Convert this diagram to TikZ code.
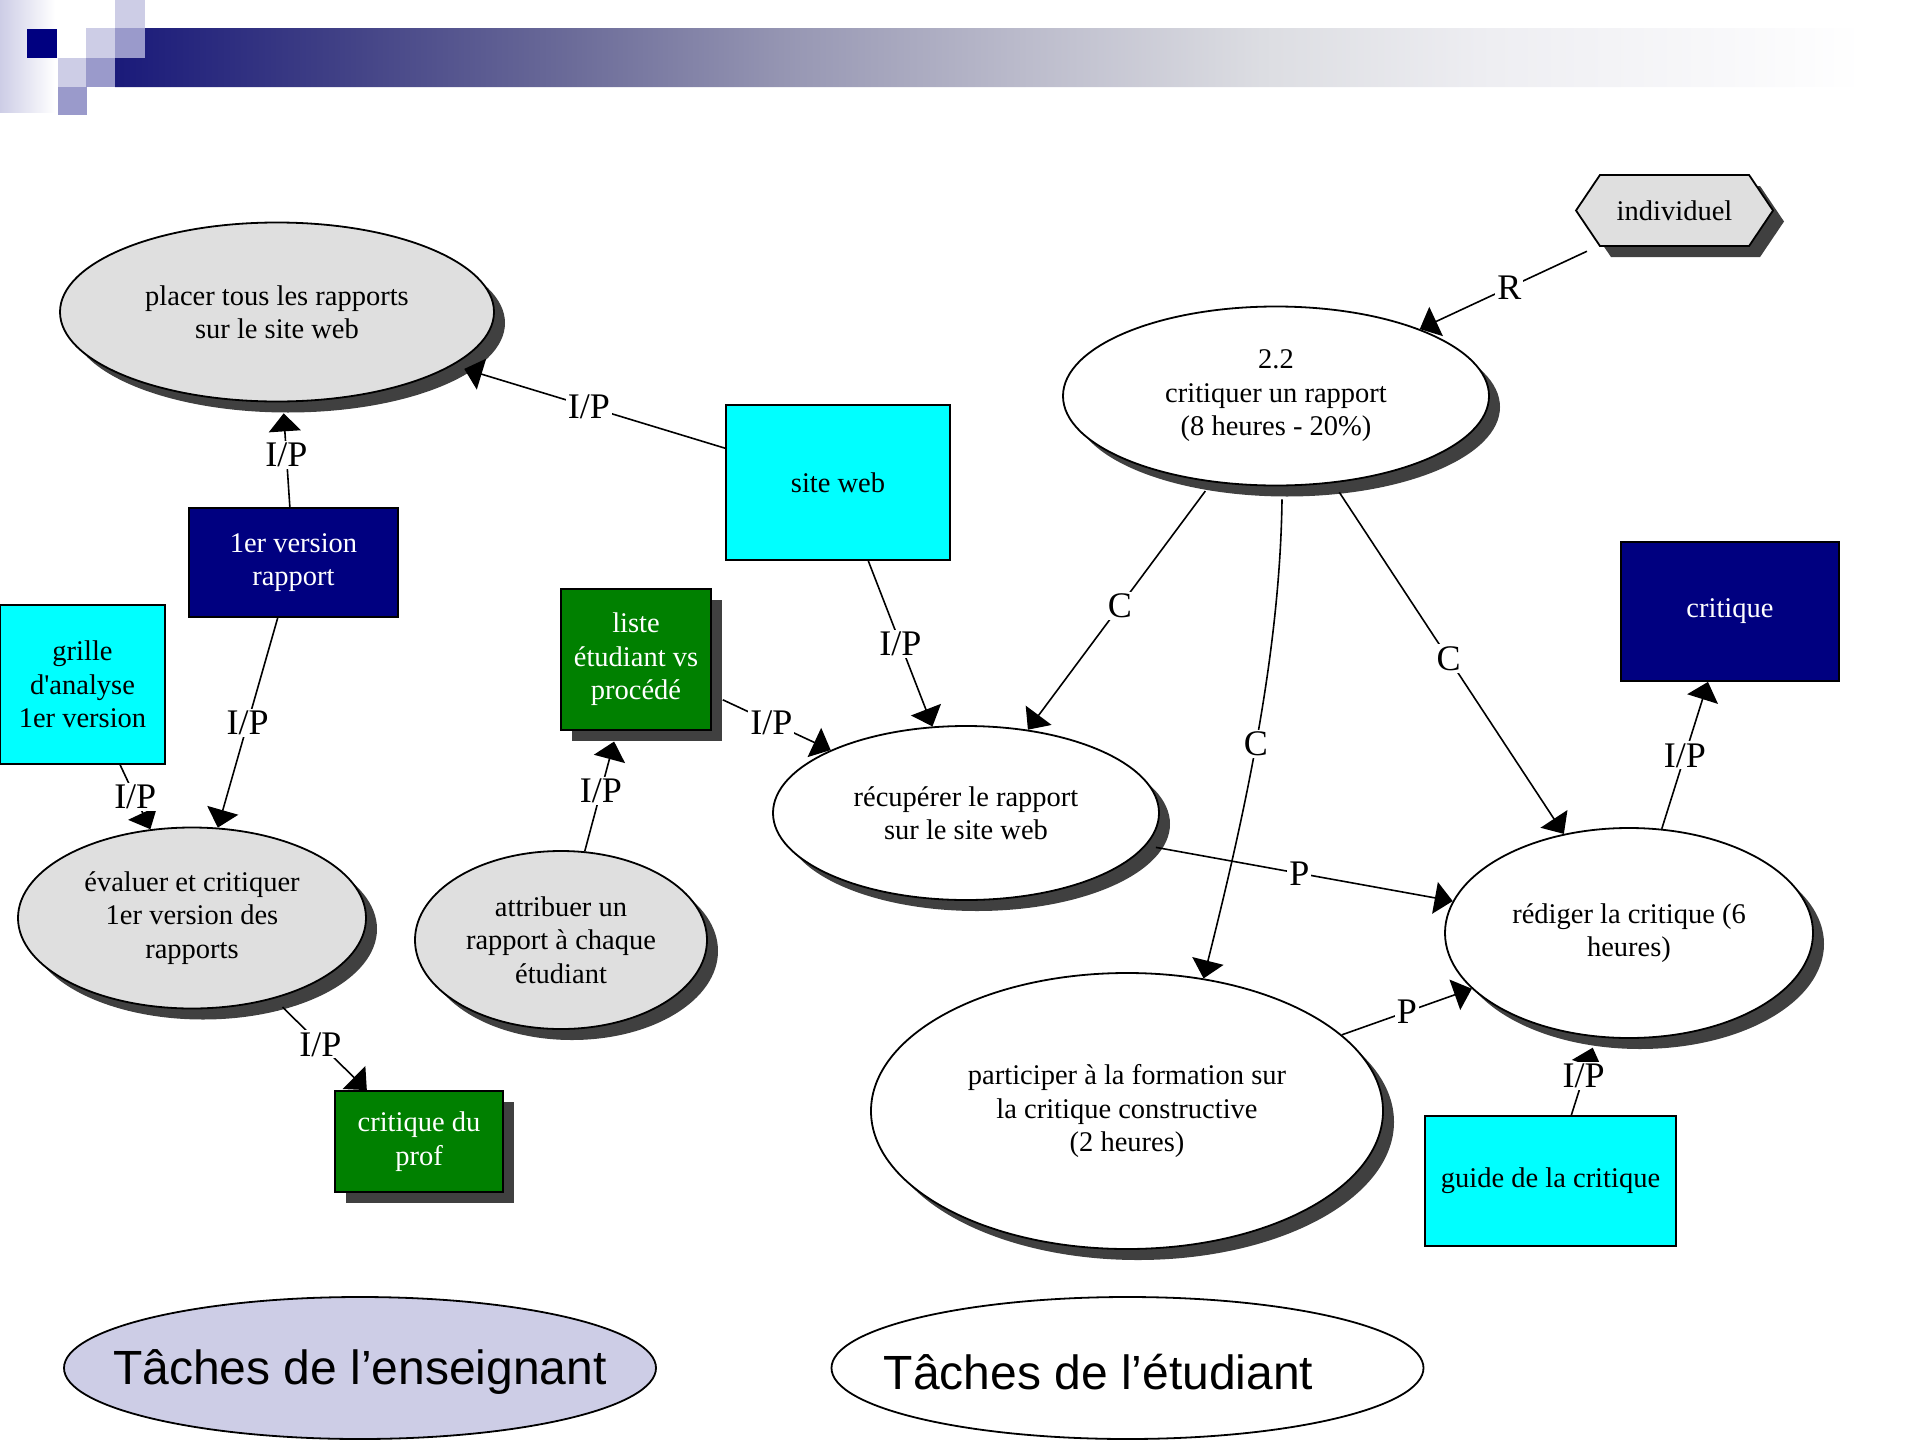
\documentclass[tikz,border=0pt]{standalone}
\usepackage{fontspec}
\setmainfont{Liberation Serif}
\newfontfamily\legendfont{Liberation Sans}
\usetikzlibrary{shapes.geometric,shapes.symbols,arrows.meta,shadows,calc}
\definecolor{navyc}{HTML}{000080}
\definecolor{cyanc}{HTML}{00FFFF}
\definecolor{greenc}{HTML}{008000}
\definecolor{grayfill}{HTML}{DFDFDF}
\definecolor{shadec}{HTML}{404040}
\definecolor{lav}{HTML}{CDCDE6}
\definecolor{lavmed}{HTML}{9A9ACB}
\definecolor{bA}{HTML}{1A1A7A}
\definecolor{bB}{HTML}{3F3F85}
\definecolor{bC}{HTML}{6A6A98}
\definecolor{bD}{HTML}{9898B4}
\definecolor{bE}{HTML}{BCBCCC}
\definecolor{bF}{HTML}{DCDDE2}
\definecolor{bG}{HTML}{EEEEF2}
\definecolor{bH}{HTML}{F8F8FA}
\pgfdeclarehorizontalshading{barshade}{100bp}{color(0bp)=(bA); color(25bp)=(bA); color(31.1bp)=(bB); color(37.65bp)=(bC); color(44.2bp)=(bD); color(50.75bp)=(bE); color(57.3bp)=(bF); color(63.8bp)=(bG); color(70.35bp)=(bH); color(74.25bp)=(white); color(100bp)=(white)}
\begin{document}
\begin{tikzpicture}[x=1pt,y=-1pt,
  nt/.style={font=\fontsize{28.5}{33.5}\selectfont, align=center},
  ell/.style={ellipse, draw=black, line width=1.8pt, inner sep=0pt, nt},
  rbox/.style={rectangle, draw=black, line width=1.8pt, inner sep=0pt, nt},
  shd/.style={drop shadow={shadow xshift=11pt, shadow yshift=-11pt, fill=shadec, opacity=1}},
  lbl/.style={fill=white, inner sep=2pt, font=\fontsize{36}{36}\selectfont},
  arr/.style={line width=1.6pt, -{Triangle[length=18pt,width=32pt]}},
  legell/.style={ellipse, draw=black, line width=1.8pt, inner sep=0pt, minimum width=592pt, minimum height=142pt},
  legtxt/.style={font=\legendfont\fontsize{48}{48}\selectfont, yshift=-4pt}
]
\useasboundingbox (0,0) rectangle (1920,1440);
% header decoration
\shade[left color=lav, right color=white] (0,0) rectangle (55,112);
\shade[shading=barshade] (145,28) -- (1890,28) -- (1890,87) -- (115,87) -- (115,58) -- (145,58) -- cycle;
\fill[navyc] (27,29) rectangle (57,58);
\fill[lav] (115,0) rectangle (145,28);
\fill[lav] (86,28) rectangle (115,58);
\fill[lavmed] (115,28) rectangle (145,58);
\fill[lav] (58,58) rectangle (86,87);
\fill[lavmed] (86,58) rectangle (115,87);
\fill[lavmed] (58,87) rectangle (87,115);

% nodes
\node[ell, shd, fill=grayfill, minimum width=434pt, minimum height=179pt] (placer) at (277,312) {placer tous les rapports\\sur le site web};
\node[ell, shd, fill=grayfill, minimum width=348pt, minimum height=181pt] (eval) at (192,918) {évaluer et critiquer\\1er version des\\rapports};
\node[ell, shd, fill=grayfill, minimum width=292pt, minimum height=178pt] (attrib) at (561,940) {attribuer un\\rapport à chaque\\étudiant};
\node[ell, shd, fill=white, minimum width=426pt, minimum height=179pt] (crit) at (1276,396) {2.2\\critiquer un rapport\\(8 heures - 20\%)};
\node[ell, shd, fill=white, minimum width=386pt, minimum height=174pt] (recup) at (966,813) {récupérer le rapport\\sur le site web};
\node[ell, shd, fill=white, minimum width=368pt, minimum height=210pt] (redig) at (1629,933) {rédiger la critique (6\\heures)};
\node[ell, shd, fill=white, minimum width=512pt, minimum height=276pt] (part) at (1127,1111) {participer à la formation sur\\la critique constructive\\(2 heures)};

\node[rbox, fill=navyc, text=white, minimum width=209pt, minimum height=109pt] (ver1) at (293.5,562.5) {1er version\\rapport};
\node[rbox, fill=cyanc, minimum width=224pt, minimum height=155pt] (siteweb) at (838,482.5) {site web};
\node[rbox, fill=cyanc, minimum width=165pt, minimum height=159pt] (grille) at (82.5,684.5) {grille\\d\textquotesingle analyse\\1er version};
\node[rbox, shd, fill=greenc, text=white, minimum width=150pt, minimum height=141pt] (liste) at (636,659.5) {liste\\étudiant vs\\procédé};
\node[rbox, shd, fill=greenc, text=white, minimum width=168pt, minimum height=101pt] (prof) at (419,1141.5) {critique du\\prof};
\node[rbox, fill=navyc, text=white, minimum width=218pt, minimum height=139pt] (critique) at (1730,611.5) {critique};
\node[rbox, fill=cyanc, minimum width=251pt, minimum height=130pt] (guide) at (1550.5,1181) {guide de la critique};
\node[signal, signal to=west and east, signal pointer angle=112, draw=black, line width=1.8pt, shd, fill=grayfill, inner sep=0pt, nt, minimum width=197pt, minimum height=71pt] (indiv) at (1674.5,210.5) {individuel};

% legend
\node[legell, fill=lav, label={[legtxt]center:Tâches de l’enseignant}] (leg1) at (360,1368) {};
\node[legell, fill=white, label={[legtxt, xshift=-29pt]center:Tâches de l’étudiant}] (leg2) at (1127.5,1368) {};

% connectors
\draw[arr, shorten >=11pt] (ver1) -- node[lbl]{I/P} (placer);
\draw[arr, shorten >=12pt] (siteweb) -- node[lbl]{I/P} (placer);
\draw[arr] (ver1) -- node[lbl]{I/P} (eval);
\draw[arr] (grille) -- node[lbl]{I/P} (eval);
\draw[arr, shorten <=12pt] (eval) -- node[lbl]{I/P} (prof);
\draw[arr, shorten >=11pt] (attrib) -- node[lbl]{I/P} (liste);
\draw[arr, shorten <=12pt] (liste) -- node[lbl]{I/P} (recup);
\draw[arr] (siteweb) -- node[lbl]{I/P} (recup);
\draw[arr, shorten <=13pt] (indiv) -- node[lbl]{R} (crit);
\draw[arr, shorten <=11pt] (crit) -- node[lbl]{C} (recup);
\draw[arr] ($(crit.south)+(6,13)$) .. controls +(-2,162) and +(37,-148) .. (part.60) node[lbl, pos=0.5]{C};
\draw[arr, shorten <=11pt] (crit) -- node[lbl]{C} (redig);
\draw[arr, shorten <=10pt] (recup) -- node[lbl]{P} (redig);
\draw[arr] (part) -- node[lbl]{P} (redig);
\draw[arr, shorten >=11pt] (guide) -- node[lbl]{I/P} (redig);
\draw[arr] (redig) -- node[lbl]{I/P} (critique);
\end{tikzpicture}
\end{document}
